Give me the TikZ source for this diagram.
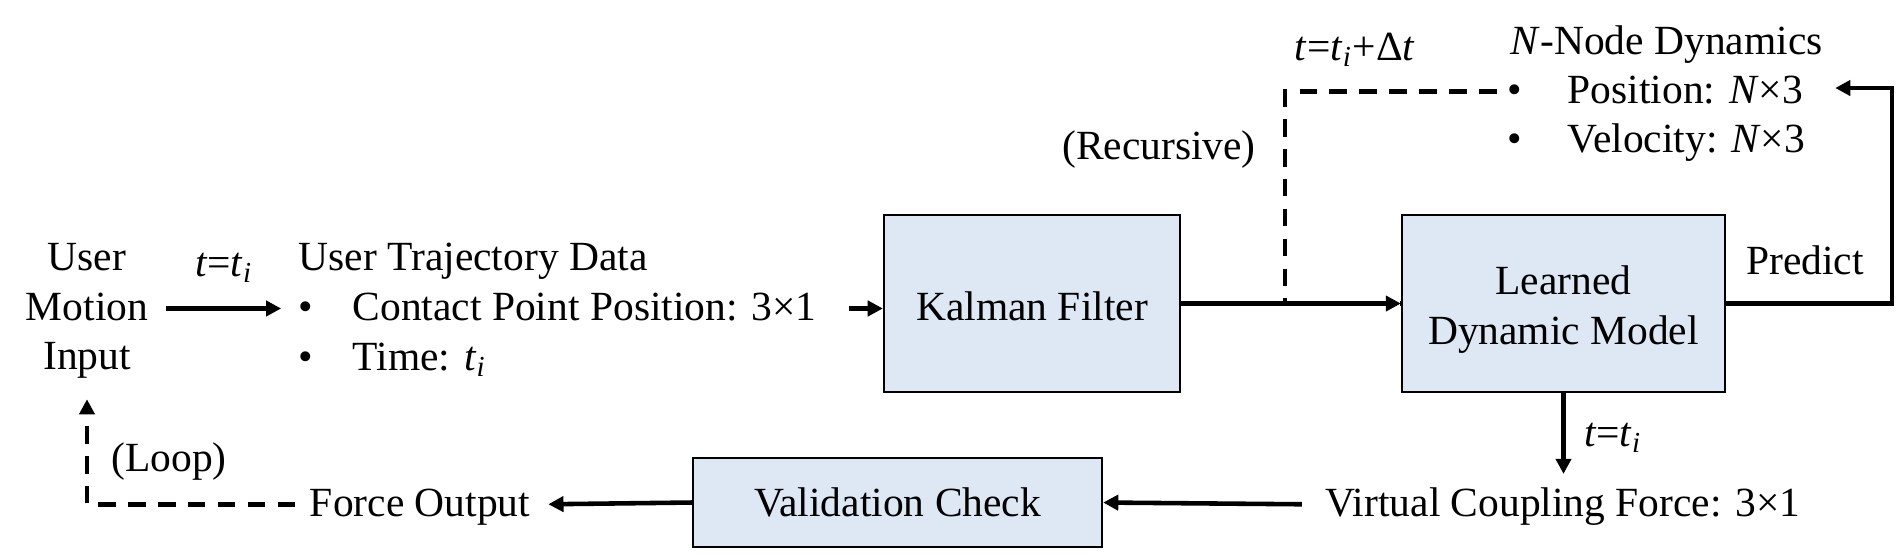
\documentclass[tikz,border=0pt]{standalone}
\usepackage{fontspec}
\setmainfont{Liberation Serif}
\usetikzlibrary{arrows.meta}
\definecolor{boxfill}{HTML}{DEE8F5}
\newcommand{\fsz}{\fontsize{11.8pt}{14.1pt}\selectfont}
\newcommand{\ti}{\textit{t}\textsubscript{\textit{i}}}
\newcommand{\lowr}[2]{\raisebox{-#1}[\height][\depth]{#2}}
\begin{document}
\begin{tikzpicture}[x=0.01cm,y=-0.01cm,
  lbl/.style={inner sep=0pt, text height=0.8em, text depth=0.14em, font=\fsz, yshift=-0.7pt},
  mlbl/.style={inner sep=0pt, align=center, font=\fsz},
  blk/.style={draw, line width=0.6pt, fill=boxfill, inner sep=0pt, font=\fsz},
  arr/.style={line width=1.3pt, -{Triangle[length=4.3pt,width=4.3pt]}},
  dline/.style={line width=1.3pt, dash pattern=on 5pt off 3.5pt}]
\useasboundingbox (0,0) rectangle (1897,553);

% boxes
\node[blk, minimum width=2.96cm, minimum height=1.77cm] (kf) at (1032,303.5) {\lowr{0.7pt}{Kalman Filter}};
\node[blk, minimum width=3.23cm, minimum height=1.77cm] (ldm) at (1563.5,303.5) {\lowr{1.7pt}{\begin{tabular}{@{}c@{}}Learned\\Dynamic Model\end{tabular}}};
\node[blk, minimum width=4.09cm, minimum height=0.89cm] (vc) at (897.5,502.5) {Validation Check};

% left texts
\node[mlbl, yshift=-1.4pt] (umi) at (87,306) {User\\Motion\\Input};
\node[lbl] (l1) at (224,262) {\textit{t}=\ti};
\node[lbl, anchor=west] (utd) at (298,256) {User Trajectory Data};
\node[lbl] (b1) at (306,306) {•};
\node[lbl, anchor=west] (cpp) at (352,306) {Contact Point Position: 3×1};
\node[lbl] (b2) at (306,356) {•};
\node[lbl, anchor=west] (tim) at (352,356) {Time: \ti};

% top right texts
\node[lbl] (l2) at (1355,46) {\textit{t}=\ti+Δ\textit{t}};
\node[lbl] (rec) at (1159,145) {(Recursive)};
\node[lbl, anchor=west] (nnd) at (1510,40) {\textit{N}-Node Dynamics};
\node[lbl] (pb1) at (1515,89) {•};
\node[lbl, anchor=west] (pos) at (1567,89) {Position: \textit{N}×3};
\node[lbl] (pb2) at (1515,138) {•};
\node[lbl, anchor=west] (vel) at (1567,138) {Velocity: \textit{N}×3};
\node[lbl] (pred) at (1805,260) {Predict};

% bottom texts
\node[lbl] (l3) at (1613,432) {\textit{t}=\ti};
\node[lbl] (vcf) at (1563,502) {Virtual Coupling Force: 3×1};
\node[lbl] (fo) at (420,502) {Force Output};
\node[lbl] (loop) at (169,457) {(Loop)};

% coordinates
\coordinate (rc) at (1285,303.5);
\coordinate (pc) at (1892,88);

% connectors
\draw[arr, shorten <=5pt, shorten >=4.8pt] (umi.east |- b1.west) -- (b1.west);
\draw[arr, shorten <=9pt] (cpp.east) -- (cpp.east -| kf.west);
\draw[dline, shorten <=3pt] (pb1.west) -| (rc) -- (ldm.west);
\draw[arr] (kf.east) -- (ldm.west);
\draw[arr, shorten >=9pt] (ldm.east) -| (pc) -- (pc -| pos.east);
\draw[arr, shorten >=3.8pt] (ldm.south) -- (ldm.south |- vcf.north);
\draw[arr, shorten <=6.5pt] (vcf.west) -- (vc.east);
\draw[arr, shorten >=5pt] (vc.west) -- (fo.east);
\draw[dline, -{Triangle[length=4.3pt,width=4.3pt]}, shorten <=4pt, shorten >=5.7pt] (fo.west) -| (umi.south);
\end{tikzpicture}
\end{document}
